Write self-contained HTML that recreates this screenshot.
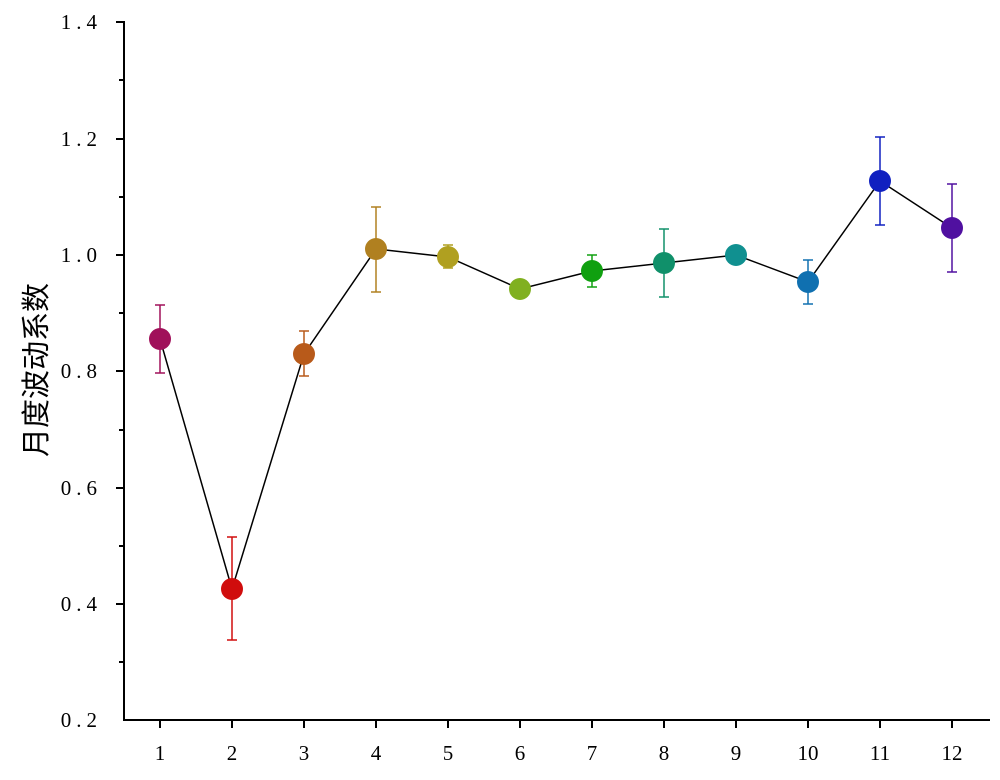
<!DOCTYPE html>
<html><head><meta charset="utf-8"><style>body{margin:0;background:#fff}</style></head><body>
<svg width="1000" height="775" xmlns="http://www.w3.org/2000/svg">
<rect width="1000" height="775" fill="#fff"/>
<g stroke="#000" stroke-width="2" fill="none">
<line x1="124" y1="21" x2="124" y2="721"/>
<line x1="123" y1="720" x2="990" y2="720"/>
</g>
<g stroke="#000" stroke-width="2">
<line x1="116" y1="22" x2="124" y2="22"/><line x1="116" y1="139" x2="124" y2="139"/><line x1="116" y1="255" x2="124" y2="255"/><line x1="116" y1="371" x2="124" y2="371"/><line x1="116" y1="488" x2="124" y2="488"/><line x1="116" y1="604" x2="124" y2="604"/>
<line x1="119" y1="80" x2="124" y2="80"/><line x1="119" y1="197" x2="124" y2="197"/><line x1="119" y1="313" x2="124" y2="313"/><line x1="119" y1="430" x2="124" y2="430"/><line x1="119" y1="546" x2="124" y2="546"/><line x1="119" y1="662" x2="124" y2="662"/>
<line x1="160" y1="720" x2="160" y2="728"/><line x1="232" y1="720" x2="232" y2="728"/><line x1="304" y1="720" x2="304" y2="728"/><line x1="376" y1="720" x2="376" y2="728"/><line x1="448" y1="720" x2="448" y2="728"/><line x1="520" y1="720" x2="520" y2="728"/><line x1="592" y1="720" x2="592" y2="728"/><line x1="664" y1="720" x2="664" y2="728"/><line x1="736" y1="720" x2="736" y2="728"/><line x1="808" y1="720" x2="808" y2="728"/><line x1="880" y1="720" x2="880" y2="728"/><line x1="952" y1="720" x2="952" y2="728"/>
</g>
<g font-family="Liberation Serif, serif" font-size="21" fill="#000" text-anchor="end" letter-spacing="5">
<text x="102" y="29">1.4</text><text x="102" y="146">1.2</text><text x="102" y="262">1.0</text><text x="102" y="378">0.8</text><text x="102" y="495">0.6</text><text x="102" y="611">0.4</text><text x="102" y="727">0.2</text>
</g>
<g font-family="Liberation Serif, serif" font-size="21" fill="#000" text-anchor="middle">
<text x="160" y="760">1</text><text x="232" y="760">2</text><text x="304" y="760">3</text><text x="376" y="760">4</text><text x="448" y="760">5</text><text x="520" y="760">6</text><text x="592" y="760">7</text><text x="664" y="760">8</text><text x="736" y="760">9</text><text x="808" y="760">10</text><text x="880" y="760">11</text><text x="952" y="760">12</text>
</g>
<text transform="translate(46,370) rotate(-90)" font-family="Liberation Sans, Noto Sans CJK SC, sans-serif" font-size="29" text-anchor="middle" fill="#000">月度波动系数</text>
<polyline points="160,339 232,589 304,354 376,249 448,257 520,289 592,271 664,263 736,255 808,282 880,181 952,228" fill="none" stroke="#000" stroke-width="1.5"/>
<g stroke-width="1.5" fill="none">
<path d="M160 305V373M155 305H165M155 373H165" stroke="#a0105a"/>
<path d="M232 537V640M227 537H237M227 640H237" stroke="#d00d0d"/>
<path d="M304 331V376M299 331H309M299 376H309" stroke="#b85a1a"/>
<path d="M376 207V292M371 207H381M371 292H381" stroke="#b08020"/>
<path d="M448 245V268M443 245H453M443 268H453" stroke="#b0a020"/>
<path d="M592 255V287M587 255H597M587 287H597" stroke="#10a010"/>
<path d="M664 229V297M659 229H669M659 297H669" stroke="#10906a"/>
<path d="M808 260V304M803 260H813M803 304H813" stroke="#1070b0"/>
<path d="M880 137V225M875 137H885M875 225H885" stroke="#1020c0"/>
<path d="M952 184V272M947 184H957M947 272H957" stroke="#5010a0"/>
</g>
<g>
<circle cx="160" cy="339" r="11" fill="#a0105a"/>
<circle cx="232" cy="589" r="11" fill="#d00d0d"/>
<circle cx="304" cy="354" r="11" fill="#b85a1a"/>
<circle cx="376" cy="249" r="11" fill="#b08020"/>
<circle cx="448" cy="257" r="11" fill="#b0a020"/>
<circle cx="520" cy="289" r="11" fill="#80b020"/>
<circle cx="592" cy="271" r="11" fill="#10a010"/>
<circle cx="664" cy="263" r="11" fill="#10906a"/>
<circle cx="736" cy="255" r="11" fill="#109090"/>
<circle cx="808" cy="282" r="11" fill="#1070b0"/>
<circle cx="880" cy="181" r="11" fill="#1020c0"/>
<circle cx="952" cy="228" r="11" fill="#5010a0"/>
</g>
</svg>
</body></html>
